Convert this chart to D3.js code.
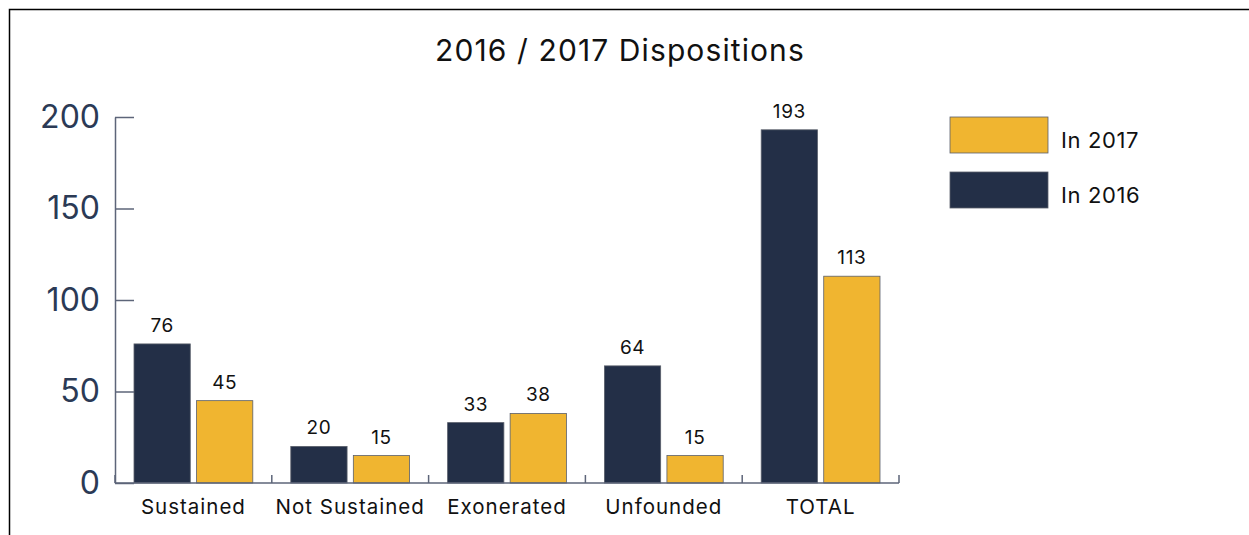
<!DOCTYPE html>
<html>
<head>
<meta charset="utf-8">
<script src="https://cdn.jsdelivr.net/npm/d3@7"></script>
<style>
  html, body { margin: 0; padding: 0; background: #ffffff; }
  svg { display: block; font-family: "Inter", "Noto Sans", sans-serif; }
</style>
</head>
<body>
<svg id="chart" width="1249" height="535"></svg>
<script>
// Disposition counts per category
const categories = ["Sustained", "Not Sustained", "Exonerated", "Unfounded", "TOTAL"];
const values2016 = [76, 20, 33, 64, 193];
const values2017 = [45, 15, 38, 15, 113];
const seriesNames = ["In 2016", "In 2017"];
const yTicks = [0, 50, 100, 150, 200];
const title = "2016 / 2017 Dispositions";

const colors = { "In 2016": "#232f47", "In 2017": "#f0b530" };
const axisColor = "#5d6579";

const svg = d3.select("#chart");

// frame lines along the top and left edges
svg.append("path")
  .attr("d", "M9.5,535V9.5H1249")
  .attr("fill", "none")
  .attr("stroke", "#000")
  .attr("stroke-width", 1.5);

svg.append("text")
  .attr("x", 620)
  .attr("y", 61)
  .attr("text-anchor", "middle")
  .attr("font-size", 30)
  .attr("letter-spacing", 1.1)
  .attr("fill", "#111")
  .text(title);

const x0 = d3.scaleBand().domain(categories).range([115, 899]).padding(0);
const groupPad = 19;
const x1 = d3.scaleBand().domain(seriesNames)
  .range([groupPad, x0.bandwidth() - groupPad]).paddingInner(0.1).paddingOuter(0);
const y = d3.scaleLinear().domain([0, 200]).range([483, 117]);

const rows = categories.map((c, i) => ({
  category: c,
  bars: [
    { key: "In 2016", value: values2016[i] },
    { key: "In 2017", value: values2017[i] }
  ]
}));

const groups = svg.append("g").selectAll("g")
  .data(rows).join("g")
  .attr("transform", d => `translate(${x0(d.category)},0)`);

groups.selectAll("rect")
  .data(d => d.bars).join("rect")
  .attr("x", d => x1(d.key))
  .attr("y", d => y(d.value))
  .attr("width", x1.bandwidth())
  .attr("height", d => y(0) - y(d.value))
  .attr("fill", d => colors[d.key])
  .attr("stroke", "#5a5f6b")
  .attr("stroke-width", 0.8);

groups.selectAll("text")
  .data(d => d.bars).join("text")
  .attr("x", d => x1(d.key) + x1.bandwidth() / 2)
  .attr("y", d => y(d.value) - 12)
  .attr("text-anchor", "middle")
  .attr("font-size", 19)
  .attr("letter-spacing", 0.6)
  .attr("fill", "#111")
  .text(d => d.value);

// y axis with inward ticks
const yAxis = svg.append("g")
  .attr("transform", "translate(115,0)")
  .call(d3.axisLeft(y).tickValues(yTicks).tickSize(-19).tickSizeOuter(0).tickPadding(15));
yAxis.select(".domain").attr("stroke", axisColor).attr("stroke-width", 1.5);
yAxis.selectAll(".tick line").attr("stroke", axisColor).attr("stroke-width", 1.5);
yAxis.selectAll(".tick text")
  .attr("font-size", 32)
  .attr("fill", "#2b3a55")
  .attr("font-family", "Inter, 'Noto Sans', sans-serif");

// x axis: baseline, boundary ticks and category labels
const xAxis = svg.append("g");
xAxis.append("line")
  .attr("x1", x0.range()[0]).attr("x2", x0.range()[1])
  .attr("y1", y(0)).attr("y2", y(0))
  .attr("stroke", axisColor).attr("stroke-width", 1.5);
const bounds = categories.map(c => x0(c)).concat([x0.range()[1]]);
xAxis.selectAll("line.bound")
  .data(bounds).join("line")
  .attr("class", "bound")
  .attr("x1", d => d).attr("x2", d => d)
  .attr("y1", y(0)).attr("y2", y(0) - 8)
  .attr("stroke", axisColor).attr("stroke-width", 1.5);
xAxis.selectAll("text")
  .data(categories).join("text")
  .attr("x", d => x0(d) + x0.bandwidth() / 2)
  .attr("y", 514)
  .attr("text-anchor", "middle")
  .attr("font-size", 20.5)
  .attr("letter-spacing", 1)
  .attr("fill", "#111")
  .text(d => d);

// legend
const legendItems = ["In 2017", "In 2016"];
const legend = svg.append("g").selectAll("g")
  .data(legendItems).join("g")
  .attr("transform", (d, i) => `translate(950,${117 + i * 55})`);
legend.append("rect")
  .attr("width", 98).attr("height", 36)
  .attr("fill", d => colors[d])
  .attr("stroke", "#5a5f6b").attr("stroke-width", 0.8);
legend.append("text")
  .attr("x", 111).attr("y", 31)
  .attr("font-size", 22)
  .attr("letter-spacing", 0.6)
  .attr("fill", "#111")
  .text(d => d);
</script>
</body>
</html>
